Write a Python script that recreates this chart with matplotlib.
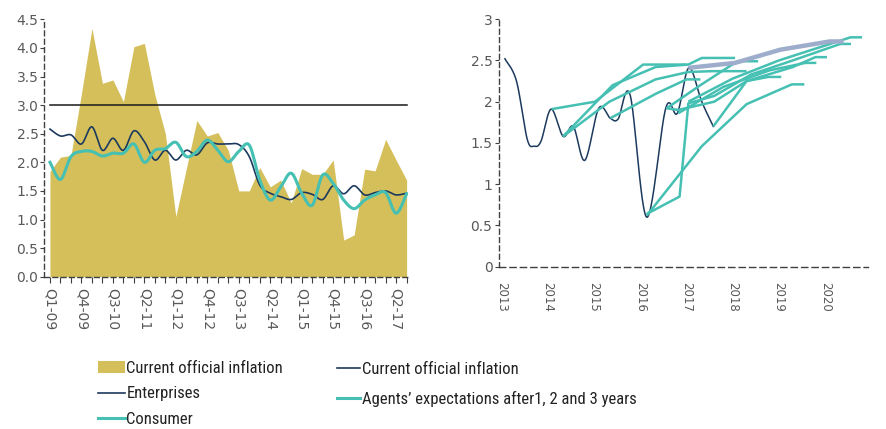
import numpy as np
import matplotlib
matplotlib.use("Agg")
import matplotlib.pyplot as plt
from matplotlib import font_manager
from matplotlib.patches import Patch
from matplotlib.lines import Line2D

# ---------------- data: left panel (quarterly, Q1-09 .. Q3-17) ----------------
official = [1.84, 2.09, 2.12, 3.20, 4.34, 3.38, 3.44, 3.06, 4.02, 4.08, 3.18, 2.50,
            1.05, 1.89, 2.73, 2.46, 2.52, 2.21, 1.50, 1.50, 1.91, 1.57, 1.69, 1.29,
            1.89, 1.79, 1.79, 2.04, 0.64, 0.73, 1.88, 1.85, 2.40, 2.04, 1.69]
enterprises = [2.58, 2.46, 2.48, 2.32, 2.62, 2.21, 2.42, 2.21, 2.55, 2.36, 2.04, 2.21,
               2.04, 2.21, 2.13, 2.34, 2.32, 2.32, 2.31, 2.10, 1.60, 1.46, 1.40, 1.35,
               1.47, 1.44, 1.35, 1.59, 1.45, 1.59, 1.43, 1.47, 1.50, 1.43, 1.46]
consumer = [2.00, 1.70, 2.10, 2.19, 2.19, 2.11, 2.16, 2.16, 2.32, 2.00, 2.21, 2.24,
            2.35, 2.10, 2.19, 2.39, 2.21, 2.01, 2.19, 2.30, 1.69, 1.34, 1.57, 1.81,
            1.46, 1.25, 1.78, 1.63, 1.34, 1.19, 1.34, 1.43, 1.47, 1.11, 1.45]
target = 3.0
quarter_labels = ["Q1-09", "Q4-09", "Q3-10", "Q2-11", "Q1-12", "Q4-12",
                  "Q3-13", "Q2-14", "Q1-15", "Q4-15", "Q3-16", "Q2-17"]

# ---------------- data: right panel (years) ----------------
cpi_years = [2013.07, 2013.32, 2013.55, 2013.70, 2013.85, 2014.07, 2014.33, 2014.55,
             2014.80, 2015.10, 2015.35, 2015.52, 2015.78, 2016.14, 2016.55, 2016.80,
             2017.05, 2017.33, 2017.58]
cpi_values = [2.52, 2.25, 1.55, 1.46, 1.52, 1.91, 1.58, 1.70,
              1.29, 1.92, 1.80, 1.79, 2.08, 0.60, 1.92, 1.86,
              2.41, 2.00, 1.70]

# expectation paths: (years, values) starting from the inflation at survey date
exp_years = [
    [2014.08, 2015.02, 2016.06, 2017.00],
    [2014.33, 2015.40, 2016.33, 2017.04, 2017.33, 2018.05],
    [2014.33, 2015.33, 2016.33, 2017.04, 2017.55, 2018.30],
    [2015.35, 2016.35, 2017.00, 2017.30],
    [2016.14, 2016.85, 2017.04, 2017.60, 2018.40, 2019.30, 2020.33, 2020.56],
    [2016.14, 2017.33, 2018.30, 2019.28, 2019.55],
    [2016.57, 2016.82, 2017.60, 2018.30, 2018.77, 2019.05],
    [2016.82, 2017.80, 2018.80, 2019.57, 2019.81],
    [2017.58, 2018.30, 2019.30, 2019.79, 2020.04],
    [2017.04, 2018.00, 2019.00, 2020.55, 2020.80],
    [2016.57, 2017.30, 2018.10, 2018.55],
]
exp_values = [
    [1.91, 2.00, 2.45, 2.45],
    [1.58, 2.20, 2.42, 2.45, 2.53, 2.53],
    [1.58, 2.00, 2.27, 2.36, 2.37, 2.37],
    [1.80, 2.10, 2.27, 2.27],
    [0.64, 0.85, 1.98, 2.07, 2.33, 2.50, 2.70, 2.70],
    [0.62, 1.46, 1.97, 2.21, 2.21],
    [1.92, 1.90, 2.00, 2.25, 2.30, 2.30],
    [1.86, 2.18, 2.38, 2.47, 2.47],
    [1.70, 2.25, 2.42, 2.54, 2.54],
    [2.00, 2.28, 2.50, 2.78, 2.78],
    [1.92, 2.20, 2.49, 2.49],
]
latest_years = [2017.04, 2018.05, 2019.03, 2020.10, 2020.40]
latest_values = [2.41, 2.47, 2.63, 2.73, 2.73]
year_ticks = [2013, 2014, 2015, 2016, 2017, 2018, 2019, 2020]

# ---------------- styling ----------------
GOLD = "#D4BF5B"
NAVY = "#1C3A5E"
TEAL = "#45C0B3"
LAVENDER = "#9DADCB"
GREY = "#595959"
AXIS = "#404040"
TICK_FAMILY = ["DejaVu Sans"]

# a narrow face for the legend text, when one is available
_installed = {f.name for f in font_manager.fontManager.ttflist}
_narrow = [n for n in ("Liberation Sans Narrow", "Roboto Condensed",
                       "Open Sans Condensed", "DejaVu Sans Condensed", "Arial Narrow")
           if n in _installed]
if _narrow:
    LEG_FONT = dict(family=[_narrow[0], "DejaVu Sans"], size=12)
else:
    LEG_FONT = dict(family=["Roboto", "DejaVu Sans"], size=11)


def smooth(xs, ys, n=24):
    """Cardinal (Catmull-Rom) cubic Bezier through the given points."""
    P = np.column_stack([np.asarray(xs, float), np.asarray(ys, float)])
    P = np.vstack([P[0], P, P[-1]])
    out = []
    t = np.linspace(0, 1, n, endpoint=False)[:, None]
    for i in range(1, len(P) - 2):
        p0, p1, p2, p3 = P[i - 1], P[i], P[i + 1], P[i + 2]
        c1 = p1 + (p2 - p0) / 6.0
        c2 = p2 - (p3 - p1) / 6.0
        seg = ((1 - t) ** 3) * p1 + 3 * ((1 - t) ** 2) * t * c1 \
            + 3 * (1 - t) * t ** 2 * c2 + t ** 3 * p2
        out.append(seg)
    out.append(P[-2][None, :])
    out = np.vstack(out)
    return out[:, 0], out[:, 1]


def style_axes(ax, size=10):
    for s in ("top", "right"):
        ax.spines[s].set_visible(False)
    for s in ("left", "bottom"):
        ax.spines[s].set_color(AXIS)
        ax.spines[s].set_linewidth(1.0)
        ax.spines[s].set_linestyle((0, (3.5, 2.5)))
    ax.tick_params(which="both", colors=AXIS, labelcolor=GREY, labelsize=size,
                   length=3, width=0.8)
    for lab in ax.get_xticklabels() + ax.get_yticklabels():
        lab.set_fontfamily(TICK_FAMILY)
        lab.set_color(GREY)


fig = plt.figure(figsize=(8.87, 4.29), dpi=100)

# ---------------- left panel ----------------
ax1 = fig.add_axes([0.0496, 0.355, 0.41, 0.6])
q = np.arange(len(official))
ax1.fill_between(q, official, 0, color=GOLD, linewidth=0, zorder=1)
ax1.plot([q[0], q[-1]], [target, target], color="#1a1a1a", lw=1.1, zorder=2)
ex, ey = smooth(q, enterprises)
ax1.plot(ex, ey, color=NAVY, lw=1.2, zorder=3)
cx, cy = smooth(q, consumer)
ax1.plot(cx, cy, color=TEAL, lw=2.2, zorder=4)
ax1.set_xlim(-0.57, 34.1)
ax1.set_ylim(0, 4.5)
yt = np.arange(0, 4.51, 0.5)
ax1.set_yticks(yt)
ax1.set_yticklabels([f"{v:.1f}" for v in yt])
ax1.set_xticks(q, minor=True)
ax1.set_xticks(q[::3])
ax1.set_xticklabels(quarter_labels, rotation=-90, va="top", ha="center")
style_axes(ax1, 10)
ax1.tick_params(axis="x", which="both", length=4)
ax1.tick_params(axis="x", which="major", pad=4)
ax1.tick_params(axis="y", pad=1)

# ---------------- right panel ----------------
ax2 = fig.add_axes([0.563, 0.3783, 0.4157, 0.577])
for ys_, vs_ in zip(exp_years, exp_values):
    ax2.plot(ys_, vs_, color=TEAL, lw=1.8, solid_capstyle="butt", zorder=2)
ax2.plot(latest_years, latest_values, color=LAVENDER, lw=3.2,
         solid_capstyle="butt", zorder=3)
dx, dy = smooth(cpi_years, cpi_values)
ax2.plot(dx, dy, color=NAVY, lw=1.1, zorder=1)
ax2.set_xlim(2012.95, 2020.93)
ax2.set_ylim(0, 3)
ax2.set_yticks([0, 0.5, 1, 1.5, 2, 2.5, 3])
ax2.set_yticklabels(["0", "0.5", "1", "1.5", "2", "2.5", "3"])
ax2.set_xticks(year_ticks)
ax2.set_xticklabels([str(y) for y in year_ticks], rotation=-90, va="top", ha="center")
style_axes(ax2, 10)
ax2.tick_params(axis="x", length=0, pad=11, labelsize=8.5)
ax2.tick_params(axis="y", pad=2)
ax2.spines["bottom"].set_linestyle((0, (4.5, 3)))

# ---------------- legends ----------------
h_left = [Patch(facecolor=GOLD, edgecolor="none"),
          Line2D([], [], color=NAVY, lw=1.2),
          Line2D([], [], color=TEAL, lw=2.2)]
fig.legend(h_left, ["Current official inflation", "Enterprises", "Consumer"],
           loc="upper left", bbox_to_anchor=(98 / 887, 1 - 361 / 429),
           frameon=False, prop=LEG_FONT, labelcolor="#222222",
           handlelength=1.6, handleheight=0.7, handletextpad=0.1,
           labelspacing=0.62, borderaxespad=0, borderpad=0)

h_right = [Line2D([], [], color=NAVY, lw=1.2),
           Line2D([], [], color=TEAL, lw=2.2)]
fig.legend(h_right, ["Current official inflation",
                     "Agents\u2019 expectations after1, 2 and 3 years"],
           loc="upper left", bbox_to_anchor=(337 / 887, 1 - 362 / 429),
           frameon=False, prop=LEG_FONT, labelcolor="#222222",
           handlelength=1.35, handletextpad=0.15,
           labelspacing=0.85, borderaxespad=0, borderpad=0)

fig.savefig("out.png", dpi=100)
